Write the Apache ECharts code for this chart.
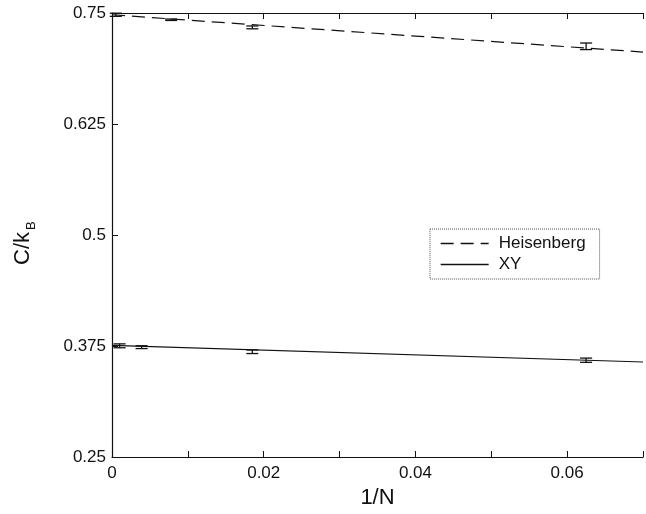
<!DOCTYPE html>
<html>
<head>
<meta charset="utf-8">
<script src="https://cdn.jsdelivr.net/npm/echarts@6/dist/echarts.min.js"></script>
<style>
  html, body { margin: 0; padding: 0; background: #fff; }
  #chart { width: 646px; height: 514px; }
</style>
</head>
<body>
<div id="chart"></div>
<script>
// Specific heat per spin versus inverse system size
const xTicks = [0, 0.02, 0.04, 0.06];
const yTicks = [0.25, 0.375, 0.5, 0.625, 0.75];

// Monte Carlo points: [1/N, C/kB, error]
const heisenbergPoints = [
  [0.0005, 0.748, 0.0018],
  [0.0078, 0.7424, 0.0008],
  [0.0185, 0.7338, 0.0016],
  [0.0625, 0.7125, 0.0037]
];
const xyPoints = [
  [0.001, 0.3752, 0.0022],
  [0.0039, 0.3737, 0.0016],
  [0.0185, 0.3685, 0.0020],
  [0.0625, 0.3590, 0.0024]
];

// Linear fits in 1/N
const heisenbergFit = [[0, 0.748], [0.07, 0.706]];
const xyFit = [[0, 0.3757], [0.07, 0.357]];

const ink = '#111';
const font = 'Liberation Sans, Arial, Helvetica, sans-serif';

function errorBars(params, api) {
  const x = api.value(0), y = api.value(1), e = api.value(2);
  const hi = api.coord([x, y + e]);
  const lo = api.coord([x, y - e]);
  const w = 6;
  const style = { stroke: ink, lineWidth: 1.3 };
  return {
    type: 'group',
    children: [
      { type: 'line', shape: { x1: hi[0], y1: hi[1], x2: lo[0], y2: lo[1] }, style },
      { type: 'line', shape: { x1: hi[0] - w, y1: hi[1], x2: hi[0] + w, y2: hi[1] }, style },
      { type: 'line', shape: { x1: lo[0] - w, y1: lo[1], x2: lo[0] + w, y2: lo[1] }, style }
    ]
  };
}

const xCommon = {
  type: 'value', min: 0, max: 0.07, interval: 0.01,
  axisLine: { onZero: false, lineStyle: { color: ink, width: 1.2 } },
  axisTick: { inside: true, length: 6, lineStyle: { color: ink, width: 1 } },
  splitLine: { show: false }
};

const chart = echarts.init(document.getElementById('chart'), null, { renderer: 'canvas' });
chart.setOption({
  animation: false,
  backgroundColor: '#fff',
  grid: { left: 112, right: 0, top: 13, bottom: 55 },
  xAxis: [
    Object.assign({}, xCommon, {
      position: 'bottom',
      name: '1/N', nameLocation: 'middle', nameGap: 30,
      nameTextStyle: { fontFamily: font, fontSize: 22, color: ink },
      axisLabel: {
        margin: 8, fontFamily: font, fontSize: 17, color: ink,
        formatter: v => {
          const hit = xTicks.find(t => Math.abs(t - v) < 1e-9);
          return hit === undefined ? '' : String(hit);
        }
      }
    }),
    Object.assign({}, xCommon, { position: 'top', axisLabel: { show: false } })
  ],
  yAxis: {
    type: 'value', min: yTicks[0], max: yTicks[yTicks.length - 1], interval: 0.125,
    axisLine: { onZero: false, lineStyle: { color: ink, width: 1.2 } },
    axisTick: { inside: true, length: 6, lineStyle: { color: ink, width: 1 } },
    splitLine: { show: false },
    axisLabel: {
      margin: 6, fontFamily: font, fontSize: 17, color: ink,
      formatter: v => String(v)
    }
  },
  legend: {
    data: ['Heisenberg', 'XY'],
    orient: 'vertical',
    left: 430, top: 229,
    padding: [6, 14, 6, 10],
    itemGap: 4,
    itemWidth: 48, itemHeight: 16,
    itemStyle: { opacity: 0, color: 'rgba(0,0,0,0)', borderWidth: 0 },
    lineStyle: { width: 1.3 },
    borderColor: '#555', borderWidth: 1, borderType: 'dotted', borderRadius: 0,
    textStyle: { fontFamily: font, fontSize: 17, color: ink, padding: [0, 0, 0, 5] }
  },
  graphic: [{
    type: 'group', x: 34, y: 238, rotation: Math.PI / 2,
    children: [
      { type: 'text', x: -27, y: 0, style: { text: 'C/k', font: '22px ' + font, fill: ink, textAlign: 'left', textVerticalAlign: 'bottom' } },
      { type: 'text', x: 8, y: 4, style: { text: 'B', font: '13px ' + font, fill: ink, textAlign: 'left', textVerticalAlign: 'bottom' } }
    ]
  }],
  series: [
    {
      name: 'Heisenberg', type: 'line', data: heisenbergFit, symbol: 'none',
      lineStyle: { color: ink, width: 1.2, type: [13, 7] }, itemStyle: { color: ink }
    },
    {
      name: 'XY', type: 'line', data: xyFit, symbol: 'none',
      lineStyle: { color: ink, width: 1.2, type: 'solid' }, itemStyle: { color: ink }
    },
    { name: 'Heisenberg data', type: 'custom', data: heisenbergPoints, renderItem: errorBars },
    { name: 'XY data', type: 'custom', data: xyPoints, renderItem: errorBars }
  ]
});
</script>
</body>
</html>
